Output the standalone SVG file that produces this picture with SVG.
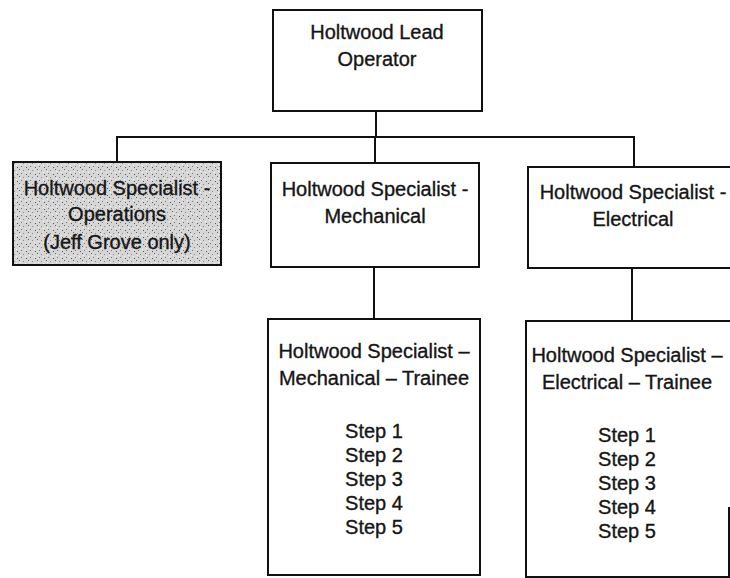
<svg xmlns="http://www.w3.org/2000/svg" width="730" height="578" viewBox="0 0 730 578">
<style>
  .box{fill:#ffffff;stroke:#111111;stroke-width:2}
  .line{fill:none;stroke:#111111;stroke-width:2}
  text{font-family:"Liberation Sans",Arial,sans-serif;font-size:20px;fill:#151515;stroke:#151515;stroke-width:0.35;text-anchor:middle}
</style>
<defs>
  <pattern id="stip" width="9" height="7" patternUnits="userSpaceOnUse">
    <rect width="9" height="7" fill="#d6d6d6"/>
    <rect x="1" y="1" width="1" height="1" fill="#666"/>
    <rect x="5" y="2" width="1" height="1" fill="#8a8a8a"/>
    <rect x="3" y="5" width="1" height="1" fill="#777"/>
    <rect x="7" y="4" width="1" height="1" fill="#f5f5f5"/>
    <rect x="2" y="3" width="1" height="1" fill="#f5f5f5"/>
    <rect x="8" y="6" width="1" height="1" fill="#555"/>
  </pattern>
</defs>
<g id="connectors">
  <path class="line" d="M376 111 V138"/>
  <path class="line" d="M117 162 V137 H634 V167"/>
  <path class="line" d="M375 138 V163"/>
  <path class="line" d="M374 267 V319"/>
  <path class="line" d="M632 268 V321"/>
</g>
<g id="lead">
  <rect class="box" x="273" y="10" width="209" height="101"/>
  <text x="377" y="39">Holtwood Lead</text>
  <text x="377" y="66">Operator</text>
</g>
<g id="operations">
  <rect x="13" y="162" width="208" height="103" fill="url(#stip)" stroke="#111" stroke-width="2"/>
  <text x="117" y="195">Holtwood Specialist -</text>
  <text x="117" y="221">Operations</text>
  <text x="117" y="249">(Jeff Grove only)</text>
</g>
<g id="mechanical">
  <rect class="box" x="271" y="163" width="208" height="104"/>
  <text x="375" y="196">Holtwood Specialist -</text>
  <text x="375" y="223">Mechanical</text>
</g>
<g id="electrical">
  <rect class="box" x="528" y="167" width="212" height="101"/>
  <text x="633" y="199">Holtwood Specialist -</text>
  <text x="633" y="226">Electrical</text>
</g>
<g id="mech-trainee">
  <rect class="box" x="268" y="319" width="212" height="256"/>
  <text x="374" y="358">Holtwood Specialist –</text>
  <text x="374" y="385">Mechanical – Trainee</text>
  <text x="374" y="438">Step 1</text>
  <text x="374" y="462">Step 2</text>
  <text x="374" y="486">Step 3</text>
  <text x="374" y="510">Step 4</text>
  <text x="374" y="534">Step 5</text>
</g>
<g id="elec-trainee">
  <path class="box" d="M740 321 H526 V577 H740" />
  <path class="line" d="M729 507 V577"/>
  <text x="627" y="362">Holtwood Specialist –</text>
  <text x="627" y="389">Electrical – Trainee</text>
  <text x="627" y="442">Step 1</text>
  <text x="627" y="466">Step 2</text>
  <text x="627" y="490">Step 3</text>
  <text x="627" y="514">Step 4</text>
  <text x="627" y="538">Step 5</text>
</g>
</svg>
